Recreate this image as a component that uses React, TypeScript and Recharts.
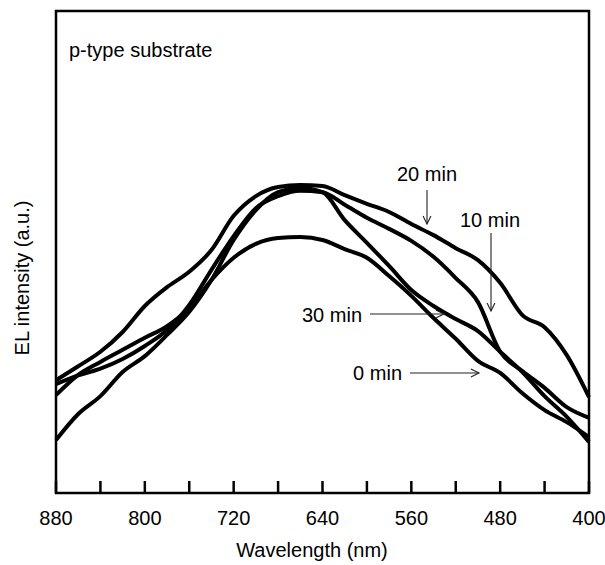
import React from 'react';
import { LineChart, Line, XAxis, YAxis, ReferenceArea } from 'recharts';

// wavelength grid (nm), read every 20 nm off the figure
const wavelengths = [
  880, 860, 840, 820, 800, 780, 760, 740, 720, 700, 680, 660, 640,
  620, 600, 580, 560, 540, 520, 500, 480, 460, 440, 420, 400,
];

// EL intensity in arbitrary units (0 = bottom of frame, 100 = top)
const min0 = [
  20.3, 24.5, 27.2, 29.7, 32.2, 34.6, 38.4, 44.2, 48.8, 51.7, 52.9, 53.1, 52.5,
  50.6, 48.8, 45.0, 40.9, 36.3, 32.0, 27.4, 24.9, 20.7, 17.2, 14.7, 11.6,
];
const min10 = [
  22.6, 24.4, 25.8, 27.8, 30.5, 33.8, 39.0, 46.3, 53.3, 59.1, 61.6, 62.7, 62.4,
  59.8, 57.1, 54.8, 52.3, 49.0, 44.6, 39.6, 29.3, 25.3, 21.8, 17.8, 15.6,
];
const min20 = [
  23.4, 26.3, 29.3, 33.4, 38.8, 42.7, 45.9, 50.4, 57.5, 61.6, 63.5, 63.9, 63.7,
  61.8, 60.0, 58.3, 55.8, 53.5, 50.8, 48.3, 43.6, 36.9, 34.4, 28.6, 19.9,
];
const min30 = [
  11.0, 16.4, 20.1, 25.1, 28.4, 32.8, 37.6, 44.2, 52.5, 58.7, 62.4, 63.3, 62.4,
  56.6, 51.9, 47.1, 42.1, 38.8, 36.1, 33.6, 29.3, 25.1, 20.1, 15.8, 10.6,
];

const xTicks = [880, 840, 800, 760, 720, 680, 640, 600, 560, 520, 480, 440, 400];
const xLabels = [880, 800, 720, 640, 560, 480, 400];

const data = wavelengths.map((wl, i) => ({
  wl,
  m0: min0[i],
  m10: min10[i],
  m20: min20[i],
  m30: min30[i],
}));

const FONT = '"Liberation Sans", Arial, Helvetica, sans-serif';

const WlTick = (props: any) => {
  const { x, y, payload } = props;
  const v = payload.value;
  return (
    <g>
      <line x1={x} y1={y} x2={x} y2={y - 12} stroke="#000" strokeWidth={2.5} />
      {xLabels.includes(v) && (
        <text x={x} y={y + 32} textAnchor="middle" fontSize={20} fontFamily={FONT} fill="#000">
          {v}
        </text>
      )}
    </g>
  );
};

const Arrow = ({ x1, y1, x2, y2 }: { x1: number; y1: number; x2: number; y2: number }) => {
  const ang = Math.atan2(y2 - y1, x2 - x1);
  const len = 9;
  const spread = 0.45;
  const ax = x2 - len * Math.cos(ang - spread);
  const ay = y2 - len * Math.sin(ang - spread);
  const bx = x2 - len * Math.cos(ang + spread);
  const by = y2 - len * Math.sin(ang + spread);
  return (
    <g stroke="#222" strokeWidth={1.1} fill="none">
      <line x1={x1} y1={y1} x2={x2} y2={y2} />
      <polyline points={`${ax},${ay} ${x2},${y2} ${bx},${by}`} />
    </g>
  );
};

export default function App() {
  return (
    <div
      style={{
        position: 'absolute',
        left: 0,
        top: 0,
        width: 605,
        height: 565,
        background: '#fff',
        fontFamily: FONT,
      }}
    >
      <LineChart
        width={605}
        height={565}
        data={data}
        margin={{ top: 11, right: 16, bottom: 0, left: 56 }}
      >
        <XAxis
          dataKey="wl"
          type="number"
          domain={[400, 880]}
          reversed
          ticks={xTicks}
          interval={0}
          tick={<WlTick />}
          tickLine={false}
          axisLine={false}
          tickSize={0}
          tickMargin={0}
          height={72}
        />
        <YAxis type="number" domain={[0, 100]} hide width={0} />
        <ReferenceArea
          x1={400}
          x2={880}
          y1={0}
          y2={100}
          fill="none"
          fillOpacity={0}
          stroke="#000"
          strokeWidth={2.5}
        />
        <Line type="monotone" dataKey="m0" stroke="#000" strokeWidth={4} dot={false} isAnimationActive={false} />
        <Line type="monotone" dataKey="m10" stroke="#000" strokeWidth={4} dot={false} isAnimationActive={false} />
        <Line type="monotone" dataKey="m20" stroke="#000" strokeWidth={4} dot={false} isAnimationActive={false} />
        <Line type="monotone" dataKey="m30" stroke="#000" strokeWidth={4} dot={false} isAnimationActive={false} />
      </LineChart>

      <svg
        width={605}
        height={565}
        style={{ position: 'absolute', left: 0, top: 0, pointerEvents: 'none' }}
        fontFamily={FONT}
      >
        <text x={69} y={57} fontSize={20} fill="#000">p-type substrate</text>
        <text x={312} y={557} fontSize={20} fill="#000" textAnchor="middle">Wavelength (nm)</text>
        <text
          x={0}
          y={0}
          fontSize={20}
          fill="#000"
          textAnchor="middle"
          transform="translate(29, 278) rotate(-90)"
        >
          EL intensity (a.u.)
        </text>

        <text x={427} y={181} fontSize={20} fill="#000" textAnchor="middle">20 min</text>
        <Arrow x1={427} y1={190} x2={427} y2={224} />

        <text x={490} y={227} fontSize={20} fill="#000" textAnchor="middle">10 min</text>
        <Arrow x1={491} y1={233} x2={491} y2={311} />

        <text x={362} y={322} fontSize={20} fill="#000" textAnchor="end">30 min</text>
        <Arrow x1={370} y1={314} x2={444} y2={314} />

        <text x={402} y={380} fontSize={20} fill="#000" textAnchor="end">0 min</text>
        <Arrow x1={410} y1={373} x2={479} y2={373} />
      </svg>
    </div>
  );
}
